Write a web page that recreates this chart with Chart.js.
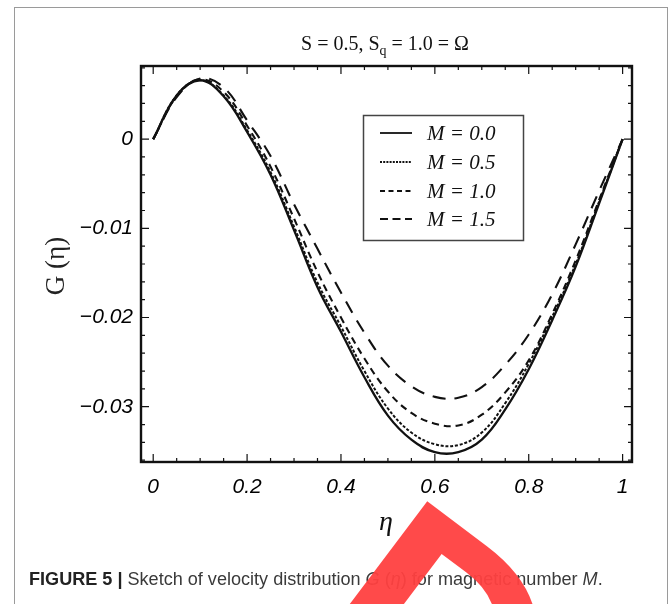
<!DOCTYPE html>
<html><head><meta charset="utf-8">
<script src="https://cdn.jsdelivr.net/npm/chart.js@4.4.0/dist/chart.umd.min.js"></script>
<style>html,body{margin:0;padding:0;background:#fff;}#wrap{position:relative;width:672px;height:604px;overflow:hidden;}canvas{display:block;}</style>
</head><body><div id="wrap"><canvas id="c" width="672" height="604"></canvas></div>
<script>
// ---- data ----
const eta = [0,0.05,0.1,0.15,0.2,0.25,0.3,0.35,0.4,0.45,0.5,0.55,0.6,0.65,0.7,0.75,0.8,0.85,0.9,0.95,1];
const G_M00 = [0,0.0049,0.0066,0.0048,0.0008,-0.0040,-0.0102,-0.0166,-0.0216,-0.0267,-0.0310,-0.0337,-0.0351,-0.0351,-0.0337,-0.0303,-0.0258,-0.0203,-0.0143,-0.0072,0];
const G_M05 = [0,0.0049,0.0066,0.0049,0.0010,-0.0037,-0.0098,-0.0161,-0.0210,-0.0260,-0.0302,-0.0329,-0.0342,-0.0343,-0.0329,-0.0296,-0.0252,-0.0199,-0.0140,-0.0070,0];
const G_M10 = [0,0.0048,0.0067,0.0053,0.0015,-0.0031,-0.0089,-0.0149,-0.0200,-0.0246,-0.0283,-0.0307,-0.0319,-0.0321,-0.0309,-0.0284,-0.0248,-0.0196,-0.0136,-0.0068,0];
const G_M15 = [0,0.0047,0.0068,0.0058,0.0021,-0.0019,-0.0073,-0.0123,-0.0172,-0.0217,-0.0254,-0.0277,-0.0289,-0.0290,-0.0278,-0.0253,-0.0219,-0.0174,-0.0118,-0.0058,0];
const seriesLabels = ['M = 0.0','M = 0.5','M = 1.0','M = 1.5'];
const xTickValues = [0,0.2,0.4,0.6,0.8,1];
const xTickLabels = ['0','0.2','0.4','0.6','0.8','1'];
const yTickValues = [0,-0.01,-0.02,-0.03];
const yTickLabels = ['0','\u22120.01','\u22120.02','\u22120.03'];
const titleParts = ['S = 0.5, S','q',' = 1.0 = \u03A9'];
const yTitle = 'G (\u03B7)';
const xTitle = '\u03B7';
const captionParts = [['FIGURE 5 |','bold'],[' Sketch of velocity distribution ',''],['G','italic'],[' (',''],['\u03B7','italic'],[') for magnetic number ',''],['M','italic'],['.','']];

// ---- styles ----
const styles = [
  {dash:[], legendDash:[], w:2.3},
  {dash:[3,1.8], legendDash:[2,1.2], w:2},
  {dash:[7,5], legendDash:[5,3.5], w:2.1},
  {dash:[13,9], legendDash:[8,4.5], w:2.1}
];
const seriesData = [G_M00,G_M05,G_M10,G_M15];

const datasets = seriesData.map((arr,i)=>({
  label: seriesLabels[i],
  data: eta.map((x,j)=>({x:x,y:arr[j]})),
  borderColor:'#111', borderWidth:styles[i].w, borderDash:styles[i].dash,
  pointRadius:0, tension:0.4, fill:false
}));

const deco = {
  id:'deco',
  afterDraw(chart){
    const ctx = chart.ctx, ca = chart.chartArea;
    const xs = chart.scales.x, ys = chart.scales.y;
    ctx.save();
    // frame
    ctx.strokeStyle='#111'; ctx.lineWidth=2.4;
    ctx.strokeRect(ca.left, ca.top, ca.right-ca.left, ca.bottom-ca.top);
    // ticks inward
    ctx.lineWidth=1.2;
    for(let k=0;k<=20;k++){
      const v=k*0.05, px=xs.getPixelForValue(v), L=(k%4===0)?8:4;
      ctx.beginPath(); ctx.moveTo(px,ca.bottom); ctx.lineTo(px,ca.bottom-L);
      ctx.moveTo(px,ca.top); ctx.lineTo(px,ca.top+L); ctx.stroke();
    }
    for(let k=-18;k<=4;k++){
      const v=k*0.002, py=ys.getPixelForValue(v), L=(k%5===0)?8:4;
      ctx.beginPath(); ctx.moveTo(ca.left,py); ctx.lineTo(ca.left+L,py);
      ctx.moveTo(ca.right,py); ctx.lineTo(ca.right-L,py); ctx.stroke();
    }
    // legend
    ctx.fillStyle='#fff'; ctx.fillRect(363,115,160,125);
    ctx.strokeStyle='#444'; ctx.lineWidth=1.5; ctx.strokeRect(363.5,115.5,160,125);
    const rows=[133,162,191,219];
    ctx.font='italic 21px "Liberation Serif", "DejaVu Serif", serif';
    ctx.textBaseline='middle'; ctx.textAlign='left';
    chart.data.datasets.forEach((ds,i)=>{
      ctx.strokeStyle='#111'; ctx.lineWidth=Math.min(ds.borderWidth,1.8); ctx.setLineDash(styles[i].legendDash);
      ctx.beginPath(); ctx.moveTo(380,rows[i]); ctx.lineTo(412,rows[i]); ctx.stroke();
      ctx.setLineDash([]);
      ctx.fillStyle='#111'; ctx.fillText(ds.label,427,rows[i]+1);
    });
    // title
    ctx.fillStyle='#111'; ctx.textBaseline='alphabetic';
    ctx.font='20px "Liberation Serif", serif';
    const w0=ctx.measureText(titleParts[0]).width;
    ctx.font='14px "Liberation Serif", serif';
    const w1=ctx.measureText(titleParts[1]).width;
    ctx.font='20px "Liberation Serif", serif';
    const w2=ctx.measureText(titleParts[2]).width;
    let tx=385-(w0+w1+w2)/2;
    ctx.fillText(titleParts[0],tx,50); tx+=w0;
    ctx.font='14px "Liberation Serif", serif'; ctx.fillText(titleParts[1],tx,55); tx+=w1;
    ctx.font='20px "Liberation Serif", serif'; ctx.fillText(titleParts[2],tx,50);
    // y title
    ctx.save(); ctx.translate(64,266); ctx.rotate(-Math.PI/2);
    ctx.textAlign='center'; ctx.fillStyle='#222';
    ctx.font='27px "Liberation Serif", serif'; ctx.fillText(yTitle,0,0);
    ctx.restore();
    // x title
    ctx.textAlign='center'; ctx.fillStyle='#111';
    ctx.font='italic 28px "Liberation Serif", serif'; ctx.fillText(xTitle,386,530);
    // caption
    ctx.textAlign='left';
    const fam='"Liberation Sans", Arial, sans-serif';
    let size=17, tot=0;
    const mw=(s)=>{tot=0; captionParts.forEach(p=>{ctx.font=p[1]+' '+s+'px '+fam; tot+=ctx.measureText(p[0]).width;}); return tot;};
    const W=mw(size); size=size*574/W;
    let cx=29;
    captionParts.forEach(p=>{ctx.font=p[1]+' '+size+'px '+fam; ctx.fillStyle=p[1]==='bold'?'#222':'#3a3a3a'; ctx.fillText(p[0],cx,585); cx+=ctx.measureText(p[0]).width;});
    // outer border
    ctx.strokeStyle='#9a9a9a'; ctx.lineWidth=1; ctx.strokeRect(14.5,7.5,653,640);
    // watermark fragment
    ctx.save();
    ctx.beginPath(); ctx.rect(0,493,672,111); ctx.clip();
    ctx.fillStyle='rgba(255,64,64,0.95)';
    ctx.translate(287,654); ctx.rotate(37*Math.PI/180);
    ctx.font='bold 300px "Liberation Sans", Arial, sans-serif'; ctx.textAlign='left'; ctx.textBaseline='alphabetic';
    ctx.fillText('D',0,0);
    ctx.restore();
    ctx.restore();
  }
};

new Chart(document.getElementById('c'),{
  type:'line',
  data:{datasets:datasets},
  options:{
    responsive:false, animation:false, devicePixelRatio:1,
    layout:{padding:{top:66,right:40,left:0,bottom:0}},
    plugins:{legend:{display:false},title:{display:false},tooltip:{enabled:false}},
    scales:{
      x:{type:'linear',min:-0.026,max:1.02,
        grid:{display:false,drawTicks:false},border:{display:false},
        afterBuildTicks:(s)=>{s.ticks=xTickValues.map(v=>({value:v}));},
        afterFit:(s)=>{s.height=142;},
        ticks:{padding:13,color:'#000',font:{family:'"Liberation Sans", Arial, sans-serif',style:'italic',size:21},
          maxRotation:0,autoSkip:false,
          callback:(v)=>{const i=xTickValues.findIndex(t=>Math.abs(t-v)<1e-9);return i>=0?xTickLabels[i]:'';}}
      },
      y:{type:'linear',min:-0.0362,max:0.0082,
        grid:{display:false,drawTicks:false},border:{display:false},
        afterBuildTicks:(s)=>{s.ticks=yTickValues.map(v=>({value:v}));},
        afterFit:(s)=>{s.width=141;},
        ticks:{padding:8,color:'#000',font:{family:'"Liberation Sans", Arial, sans-serif',style:'italic',size:21},
          autoSkip:false,
          callback:(v)=>{const i=yTickValues.findIndex(t=>Math.abs(t-v)<1e-9);return i>=0?yTickLabels[i]:'';}}
      }
    }
  },
  plugins:[deco]
});
</script></body></html>
